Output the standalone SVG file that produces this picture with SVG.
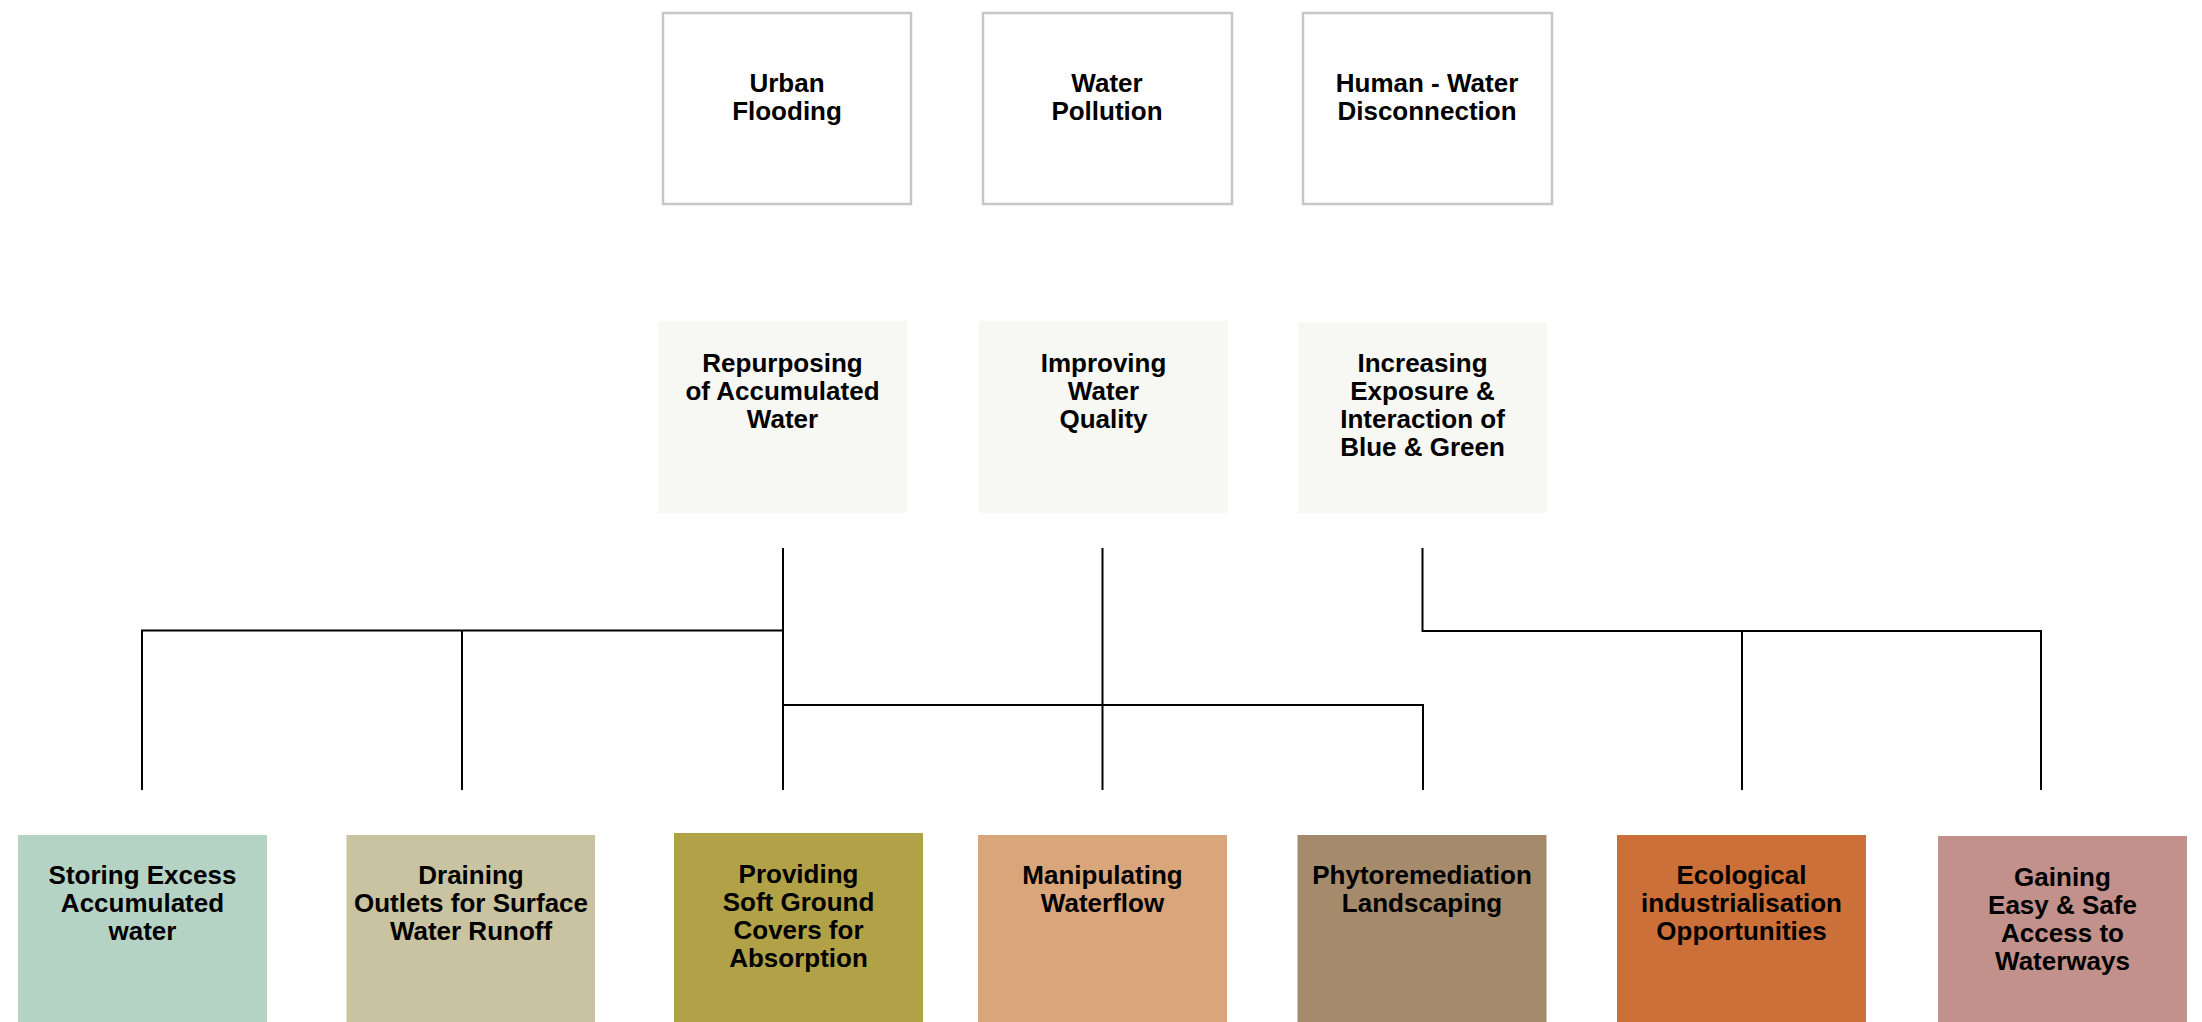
<svg xmlns="http://www.w3.org/2000/svg" width="2202" height="1022" viewBox="0 0 2202 1022">
<style>
.t{font-family:"Liberation Sans",Arial,sans-serif;font-weight:bold;font-size:26px;fill:#000;text-anchor:middle}
.top{fill:#fff;stroke:#c6c6c6;stroke-width:2.5}
.mid{fill:#f7f7f3}
.c{fill:none;stroke:#000;stroke-width:2}
</style>
<rect width="2202" height="1022" fill="#fff"/>
<g id="connectors">
<path class="c" d="M783,548 V790"/>
<path class="c" d="M142,790 V630.5 H783"/>
<path class="c" d="M462,630.5 V790"/>
<path class="c" d="M783,705 H1423 V790"/>
<path class="c" d="M1102.5,548 V790"/>
<path class="c" d="M1422.5,548 V631 H2041 V790"/>
<path class="c" d="M1742,631 V790"/>
</g>
<g id="urban-flooding"><rect class="top" x="663" y="13" width="248" height="191"/><text class="t" x="787" y="92">Urban</text><text class="t" x="787" y="120">Flooding</text></g>
<g id="water-pollution"><rect class="top" x="983" y="13" width="249" height="191"/><text class="t" x="1107" y="92">Water</text><text class="t" x="1107" y="120">Pollution</text></g>
<g id="human-water"><rect class="top" x="1303" y="13" width="249" height="191"/><text class="t" x="1427" y="92">Human - Water</text><text class="t" x="1427" y="120">Disconnection</text></g>
<g id="repurposing"><rect class="mid" x="658" y="321" width="249" height="192"/><text class="t" x="782.5" y="371.5">Repurposing</text><text class="t" x="782.5" y="399.5">of Accumulated</text><text class="t" x="782.5" y="427.5">Water</text></g>
<g id="improving"><rect class="mid" x="979" y="321" width="249" height="192"/><text class="t" x="1103.5" y="371.5">Improving</text><text class="t" x="1103.5" y="399.5">Water</text><text class="t" x="1103.5" y="427.5">Quality</text></g>
<g id="increasing"><rect class="mid" x="1298" y="322" width="249" height="191"/><text class="t" x="1422.5" y="371.5">Increasing</text><text class="t" x="1422.5" y="399.5">Exposure &amp;</text><text class="t" x="1422.5" y="427.5">Interaction of</text><text class="t" x="1422.5" y="455.5">Blue &amp; Green</text></g>
<g id="storing"><rect x="18" y="835" width="249" height="187" fill="#b5d3c5"/><text class="t" x="142.5" y="883.5">Storing Excess</text><text class="t" x="142.5" y="911.5">Accumulated</text><text class="t" x="142.5" y="939.5">water</text></g>
<g id="draining"><rect x="346.5" y="835" width="248.5" height="187" fill="#c9c3a1"/><text class="t" x="471" y="883.5">Draining</text><text class="t" x="471" y="911.5">Outlets for Surface</text><text class="t" x="471" y="939.5">Water Runoff</text></g>
<g id="providing"><rect x="674" y="833" width="249" height="189" fill="#b1a247"/><text class="t" x="798.5" y="882.5">Providing</text><text class="t" x="798.5" y="910.5">Soft Ground</text><text class="t" x="798.5" y="938.5">Covers for</text><text class="t" x="798.5" y="966.5">Absorption</text></g>
<g id="manipulating"><rect x="978" y="835" width="249" height="187" fill="#d9a67b"/><text class="t" x="1102.5" y="883.5">Manipulating</text><text class="t" x="1102.5" y="911.5">Waterflow</text></g>
<g id="phytoremediation"><rect x="1297.5" y="835" width="249" height="187" fill="#a58b6b"/><text class="t" x="1422" y="884">Phytoremediation</text><text class="t" x="1422" y="912">Landscaping</text></g>
<g id="ecological"><rect x="1617" y="835" width="249" height="187" fill="#cc703a"/><text class="t" x="1741.5" y="883.5">Ecological</text><text class="t" x="1741.5" y="911.5">industrialisation</text><text class="t" x="1741.5" y="939.5">Opportunities</text></g>
<g id="gaining"><rect x="1938" y="836" width="249" height="186" fill="#c2918b"/><text class="t" x="2062.5" y="886">Gaining</text><text class="t" x="2062.5" y="914">Easy &amp; Safe</text><text class="t" x="2062.5" y="942">Access to</text><text class="t" x="2062.5" y="970">Waterways</text></g>
</svg>
